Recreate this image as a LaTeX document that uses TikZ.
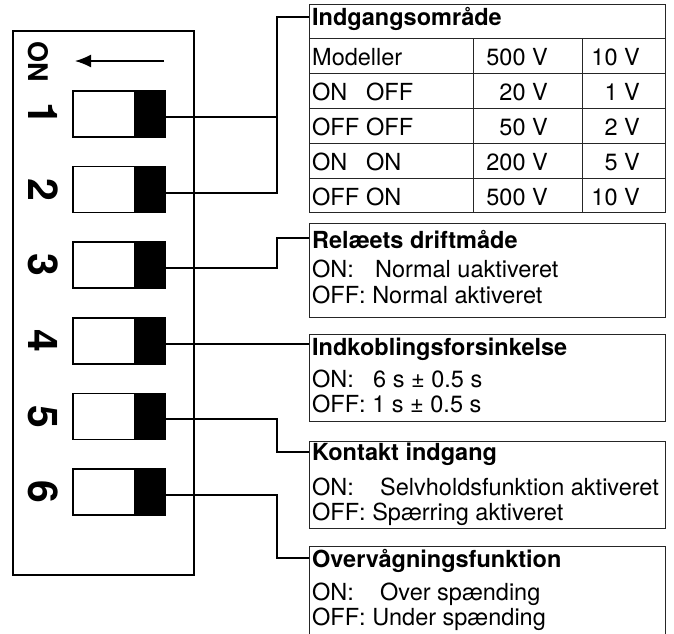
\documentclass[tikz,border=0pt]{standalone}
\usepackage{fontspec}
\setmainfont{TeX Gyre Heros}
\usetikzlibrary{arrows.meta}

\newcommand\txtfont{\fontsize{23.5}{26}\selectfont}

\tikzset{
  switchbox/.style={draw, line width=1.5pt, fill=white, minimum width=92pt, minimum height=46pt, inner sep=0pt},
  knob/.style={fill=black, minimum width=32pt, minimum height=46pt, inner sep=0pt},
  pinno/.style={font=\fontsize{41}{41}\selectfont\bfseries, rotate=-90, inner sep=0pt},
  frame/.style={draw=black!85, line width=1pt, anchor=north west, inner sep=0pt},
  rule/.style={draw=black!85, line width=1pt},
  lead/.style={line width=2pt},
  head/.style={font=\txtfont\bfseries, anchor=base west, inner sep=0pt},
  cell/.style={font=\txtfont, anchor=base west, inner sep=0pt},
  num/.style={font=\txtfont, anchor=base east, inner sep=0pt},
}

\begin{document}
\begin{tikzpicture}[x=1pt, y=-1pt]
  \useasboundingbox (0,0) rectangle (674,633);
  % DIP switch block
  \node[draw, line width=2pt, minimum width=181pt, minimum height=544pt, inner sep=0pt] (block) at (103.5,303) {};
  \node[pinno, font=\fontsize{27}{27}\selectfont\bfseries] (on) at (38,62) {ON};
  \coordinate (arrtail) at (164,61);
  \coordinate (arrtip) at (75,61);
  \draw[line width=1.5pt, -{Latex[length=16pt, width=13pt]}] (arrtail) -- (arrtip);
  \foreach \i in {1,...,6} {
    \node[switchbox] (sw\i) at (119, {114+75.6*(\i-1)}) {};
    \node[knob, anchor=east] (k\i) at (sw\i.east) {};
    \node[pinno] (n\i) at (43, {114+75.6*(\i-1)}) {\i};
  }

  % Indgangsomraade
  \node[frame, minimum width=356pt, minimum height=208pt] (range) at (309,4) {};
  \foreach \y in {38,73,108,143,178}
    \draw[rule] (309,\y) -- (665,\y);
  \draw[rule] (473,38) -- (473,212);
  \draw[rule] (582,38) -- (582,212);
  \node[head] (rangehd) at (312,25) {Indgangsområde};
  \node[cell] (model) at (312,65) {Modeller};
  \node[num] (modelhi) at (548,65) {500 V};
  \node[num] (modello) at (640,65) {10 V};
  \foreach \y/\a/\b/\hi/\lo [count=\r] in {100/ON/OFF/20/1, 135/OFF/OFF/50/2, 170/ON/ON/200/5, 205/OFF/ON/500/10} {
    \node[cell] (sa\r) at (312,\y) {\a};
    \node[cell] (sb\r) at (366,\y) {\b};
    \node[num] (hi\r) at (548,\y) {\hi~V};
    \node[num] (lo\r) at (640,\y) {\lo~V};
  }

  % Relaeets driftmaade
  \node[frame, minimum width=356pt, minimum height=94pt] (relay) at (309,223) {};
  \node[head] (relayhd) at (312,248) {Relæets driftmåde};
  \node[cell] (relayon) at (312,277) {ON:};
  \node[cell] (relayonv) at (375,277) {Normal uaktiveret};
  \node[cell] (relayoff) at (312,303) {OFF: Normal aktiveret};

  % Indkoblingsforsinkelse
  \node[frame, minimum width=356pt, minimum height=87pt] (delay) at (309,334) {};
  \node[head] (delayhd) at (312,355) {Indkoblingsforsinkelse};
  \node[cell] (delayon) at (312,387) {ON:};
  \node[cell] (delayonv) at (373,387) {6 s ± 0.5 s};
  \node[cell] (delayoff) at (312,412) {OFF: 1 s ± 0.5 s};

  % Kontakt indgang
  \node[frame, minimum width=356pt, minimum height=87pt] (contact) at (309,441) {};
  \node[head] (contacthd) at (312,460) {Kontakt indgang};
  \node[cell] (contacton) at (312,495) {ON:};
  \node[cell] (contactonv) at (380,495) {Selvholdsfunktion aktiveret};
  \node[cell] (contactoff) at (312,520) {OFF: Spærring aktiveret};

  % Overvaagningsfunktion
  \node[frame, minimum width=356pt, minimum height=100pt] (watch) at (309,546) {};
  \node[head] (watchhd) at (312,567) {Overvågningsfunktion};
  \node[cell] (watchon) at (312,600) {ON:};
  \node[cell] (watchonv) at (380,600) {Over spænding};
  \node[cell] (watchoff) at (312,625) {OFF: Under spænding};

  % leads
  \coordinate (bend) at (277,0);
  \coordinate (in1) at (309,17);
  \coordinate (in2) at (309,238);
  \coordinate (in4) at (309,452);
  \coordinate (in5) at (309,558);
  \draw[lead] ([yshift=-3pt]k1.east) -- ([yshift=-3pt]k1.east -| bend);
  \draw[lead] ([yshift=-3pt]k2.east) -| (bend |- in1) -- (in1);
  \draw[lead] ([yshift=-3pt]k3.east) -| (bend |- in2) -- (in2);
  \draw[lead] ([yshift=-3pt]k4.east) -- ([yshift=-3pt]k4.east -| delay.west);
  \draw[lead] ([yshift=-3pt]k5.east) -| (bend |- in4) -- (in4);
  \draw[lead] ([yshift=-3pt]k6.east) -| (bend |- in5) -- (in5);
\end{tikzpicture}
\end{document}
